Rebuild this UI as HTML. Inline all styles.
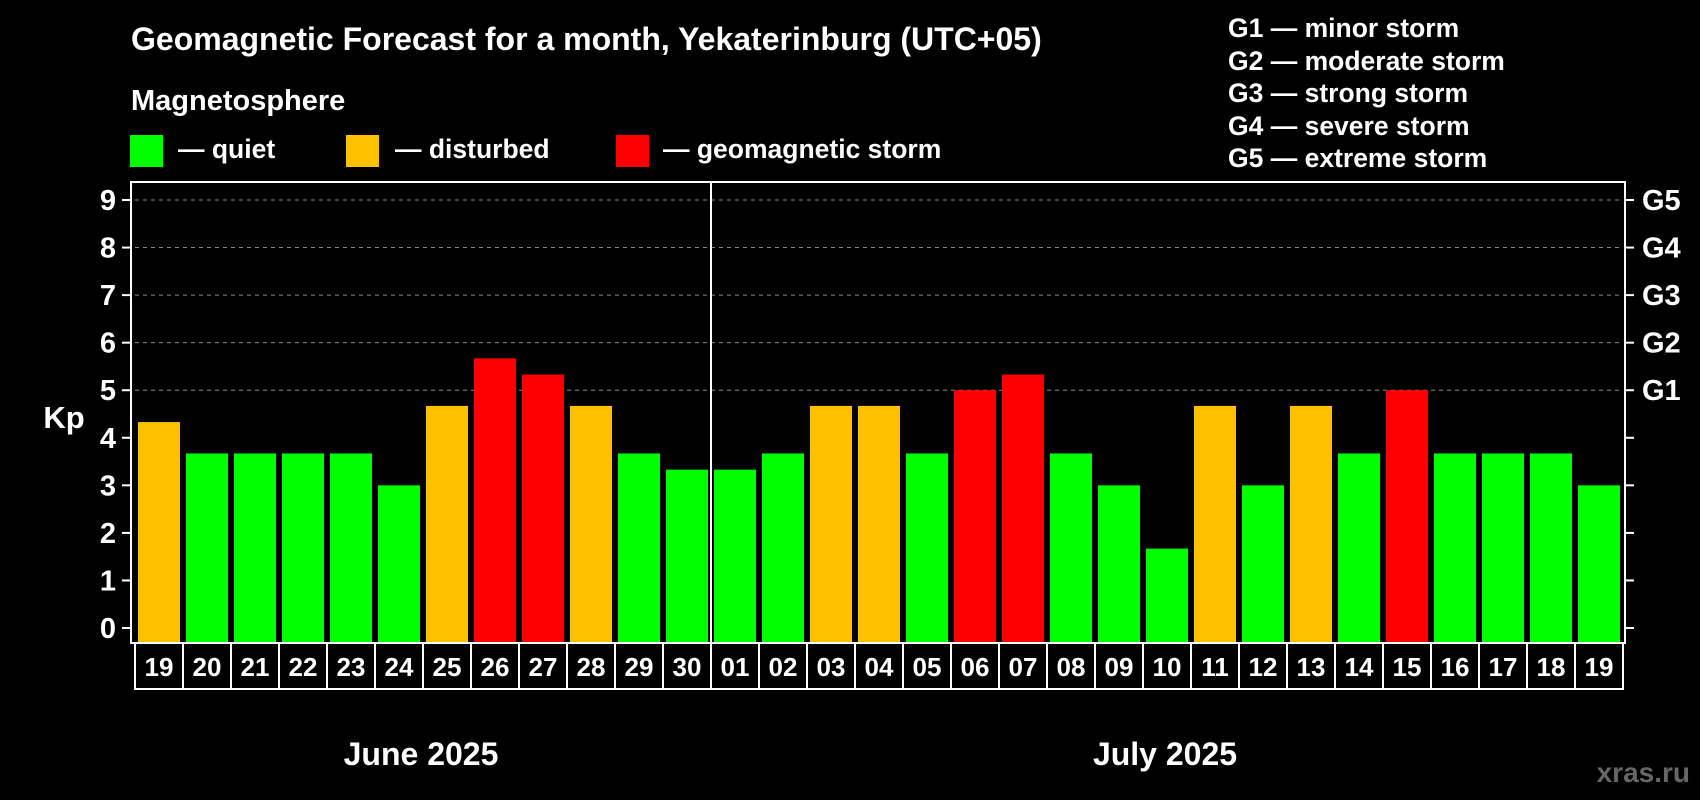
<!DOCTYPE html>
<html><head><meta charset="utf-8"><style>
html,body{margin:0;padding:0;background:#000;}
svg{display:block;font-family:"Liberation Sans",Arial,sans-serif;font-weight:bold;}
</style></head><body>
<svg id="chart" width="1700" height="800" viewBox="0 0 1700 800">
<rect width="1700" height="800" fill="#000"/>
<text x="131" y="50" fill="#fff" font-size="32">Geomagnetic Forecast for a month, Yekaterinburg (UTC+05)</text>
<text x="131" y="110" fill="#fff" font-size="29">Magnetosphere</text>
<g><rect x="130" y="135" width="33" height="32" fill="#00ff00"/><text x="178" y="158" fill="#fff" font-size="26.5">— quiet</text></g>
<g><rect x="346" y="135" width="33" height="32" fill="#ffc000"/><text x="395" y="158" fill="#fff" font-size="26.5">— disturbed</text></g>
<g><rect x="616" y="135" width="33" height="32" fill="#ff0000"/><text x="663" y="158" fill="#fff" font-size="26.5">— geomagnetic storm</text></g>
<g fill="#fff" font-size="26.5">
<text x="1228" y="37">G1 — minor storm</text>
<text x="1228" y="70">G2 — moderate storm</text>
<text x="1228" y="102">G3 — strong storm</text>
<text x="1228" y="135">G4 — severe storm</text>
<text x="1228" y="167">G5 — extreme storm</text>
</g>
<text x="64" y="428" fill="#fff" font-size="31" text-anchor="middle">Kp</text>
<text x="1690" y="782" fill="#666" font-size="28" text-anchor="end">xras.ru</text>
<text x="421" y="765" fill="#fff" font-size="32" text-anchor="middle">June 2025</text>
<text x="1165" y="765" fill="#fff" font-size="32" text-anchor="middle">July 2025</text>
<g id="plot"></g>
</svg>
<script>
const days = ["19","20","21","22","23","24","25","26","27","28","29","30","01","02","03","04","05","06","07","08","09","10","11","12","13","14","15","16","17","18","19"];
const kpValues = [4.33,3.67,3.67,3.67,3.67,3,4.67,5.67,5.33,4.67,3.67,3.33,3.33,3.67,4.67,4.67,3.67,5,5.33,3.67,3,1.67,4.67,3,4.67,3.67,5,3.67,3.67,3.67,3];
const yTicks = [0,1,2,3,4,5,6,7,8,9];
const gLabels = ["G1","G2","G3","G4","G5"];
const gLevels = [5,6,7,8,9];
const monthSplitIndex = 12;

const NS="http://www.w3.org/2000/svg";
const plot=document.getElementById('plot');
const L=131,R=1625,T=182,B=643;
const y0=628,unit=(628-200)/9;
const yScale=v=>y0-v*unit;
const pitch=48, x0=135;
const xScale=i=>x0+i*pitch;
function mk(tag,attrs,parent){const e=document.createElementNS(NS,tag);for(const k in attrs)e.setAttribute(k,attrs[k]);(parent||plot).appendChild(e);return e;}
function color(v){return v>=5?"#ff0000":(v>=4?"#ffc000":"#00ff00");}

yTicks.forEach(t=>{
  const y=yScale(t);
  if(t>=5){const g=mk('line',{x1:L+4,x2:R-2,y1:y,y2:y,stroke:'#888','stroke-width':1,'stroke-dasharray':'4,4'});
  
  }
  const tl=mk('line',{x1:L-9,x2:L,y1:y,y2:y,stroke:'#fff','stroke-width':2});
  
  
  const tr=mk('line',{x1:R,x2:R+9,y1:y,y2:y,stroke:'#fff','stroke-width':2});
  
  
  const lb=mk('text',{x:116,y:y+10,fill:'#fff','font-size':29,'text-anchor':'end'});
  lb.textContent=t;
  
  
});
gLabels.forEach((g,i)=>{
  const t=mk('text',{x:1642,y:yScale(gLevels[i])+10,fill:'#fff','font-size':29});
  t.textContent=g;
  
  
});
kpValues.forEach((v,i)=>{
  const b=mk('rect',{x:xScale(i)+3,y:yScale(v),width:42,height:B-yScale(v),fill:color(v)});
  
  
});
const border=mk('rect',{x:L,y:T,width:R-L,height:B-T,fill:'none',stroke:'#fff','stroke-width':2});


const div=mk('line',{x1:xScale(monthSplitIndex),x2:xScale(monthSplitIndex),y1:T,y2:B,stroke:'#fff','stroke-width':2});


days.forEach((d,i)=>{
  const r=mk('rect',{x:xScale(i),y:B,width:pitch,height:46,fill:'none',stroke:'#fff','stroke-width':2});
  
  
  const t=mk('text',{x:xScale(i)+pitch/2,y:B+33,fill:'#fff','font-size':26,'text-anchor':'middle'});
  t.textContent=d;
  
  
});
</script>
</body></html>
